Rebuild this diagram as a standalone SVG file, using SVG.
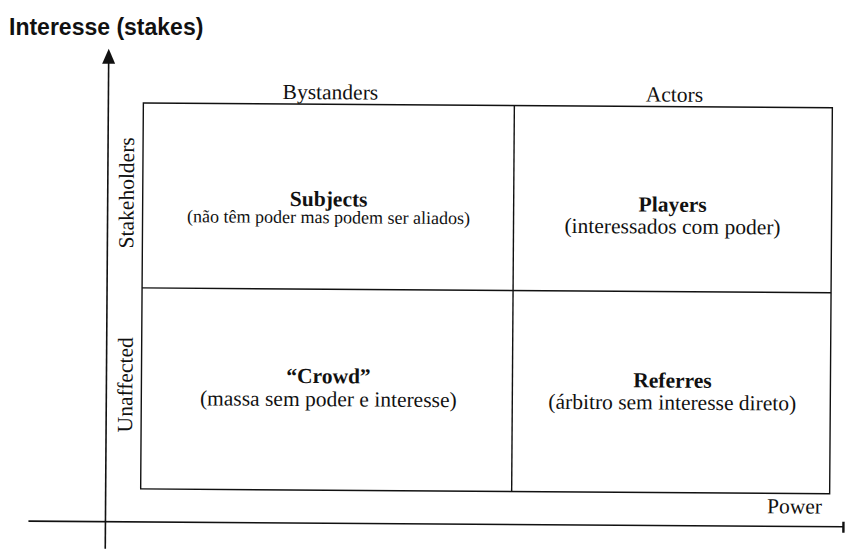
<svg xmlns="http://www.w3.org/2000/svg" width="846" height="551" viewBox="0 0 846 551">
  <style>
    .ln { stroke: #111; stroke-width: 1.4; fill: none; }
    .ax { stroke: #111; stroke-width: 1.6; fill: none; }
    .lbl { font-family: "Liberation Serif", "Times New Roman", serif; font-size: 21.5px; fill: #111; text-anchor: middle; }
    .ttl { font-family: "Liberation Serif", "Times New Roman", serif; font-size: 21.5px; font-weight: bold; fill: #111; text-anchor: middle; }
    .sub { font-family: "Liberation Serif", "Times New Roman", serif; font-size: 21.5px; fill: #111; text-anchor: middle; }
    .sub-s { font-size: 18px; }
    .head { font-family: "Liberation Sans", Arial, sans-serif; font-size: 23px; font-weight: bold; fill: #111; }
  </style>
  <defs>
    <marker id="arrow" markerWidth="14" markerHeight="16" refX="7" refY="1" orient="auto" markerUnits="userSpaceOnUse" viewBox="0 0 14 16">
      <path d="M7 0 L13.5 15 L0.5 15 Z" fill="#111"/>
    </marker>
  </defs>
  <rect width="846" height="551" fill="#fff"/>
  <text id="title" class="head" x="9" y="35">Interesse (stakes)</text>
  <g transform="rotate(0.4 440 300)">
    <g id="connectors">
      <line id="axis-y" class="ax" x1="107" y1="551" x2="107" y2="60"/>
      <path d="M107 51 L113.5 66 L100.5 66 Z" fill="#111"/>
      <line id="axis-x" class="ax" x1="30" y1="524" x2="845" y2="524"/>
      <line x1="845" y1="519" x2="845" y2="530" stroke="#111" stroke-width="2.4"/>
    </g>
    <g id="grid">
      <rect class="ln" x="142" y="105" width="689" height="386"/>
      <line class="ln" x1="513" y1="105" x2="513" y2="491"/>
      <line class="ln" x1="142" y1="290" x2="831" y2="290"/>
    </g>
    <g id="axis-labels">
      <text class="lbl" x="329" y="100">Bystanders</text>
      <text class="lbl" x="673" y="100">Actors</text>
      <text class="lbl" transform="translate(133 195) rotate(-90)" x="0" y="0">Stakeholders</text>
      <text class="lbl" transform="translate(133 387) rotate(-90)" x="0" y="0">Unaffected</text>
      <text class="lbl" x="796" y="511">Power</text>
    </g>
    <g id="subjects">
      <text class="ttl" x="328" y="207">Subjects</text>
      <text class="sub sub-s" x="328" y="224">(não têm poder mas podem ser aliados)</text>
    </g>
    <g id="players">
      <text class="ttl" x="672" y="210">Players</text>
      <text class="sub" x="672" y="232">(interessados com poder)</text>
    </g>
    <g id="crowd">
      <text class="ttl" x="329" y="384">“Crowd”</text>
      <text class="sub" x="329" y="407">(massa sem poder e interesse)</text>
    </g>
    <g id="referres">
      <text class="ttl" x="673" y="386">Referres</text>
      <text class="sub" x="673" y="408">(árbitro sem interesse direto)</text>
    </g>
  </g>
</svg>
